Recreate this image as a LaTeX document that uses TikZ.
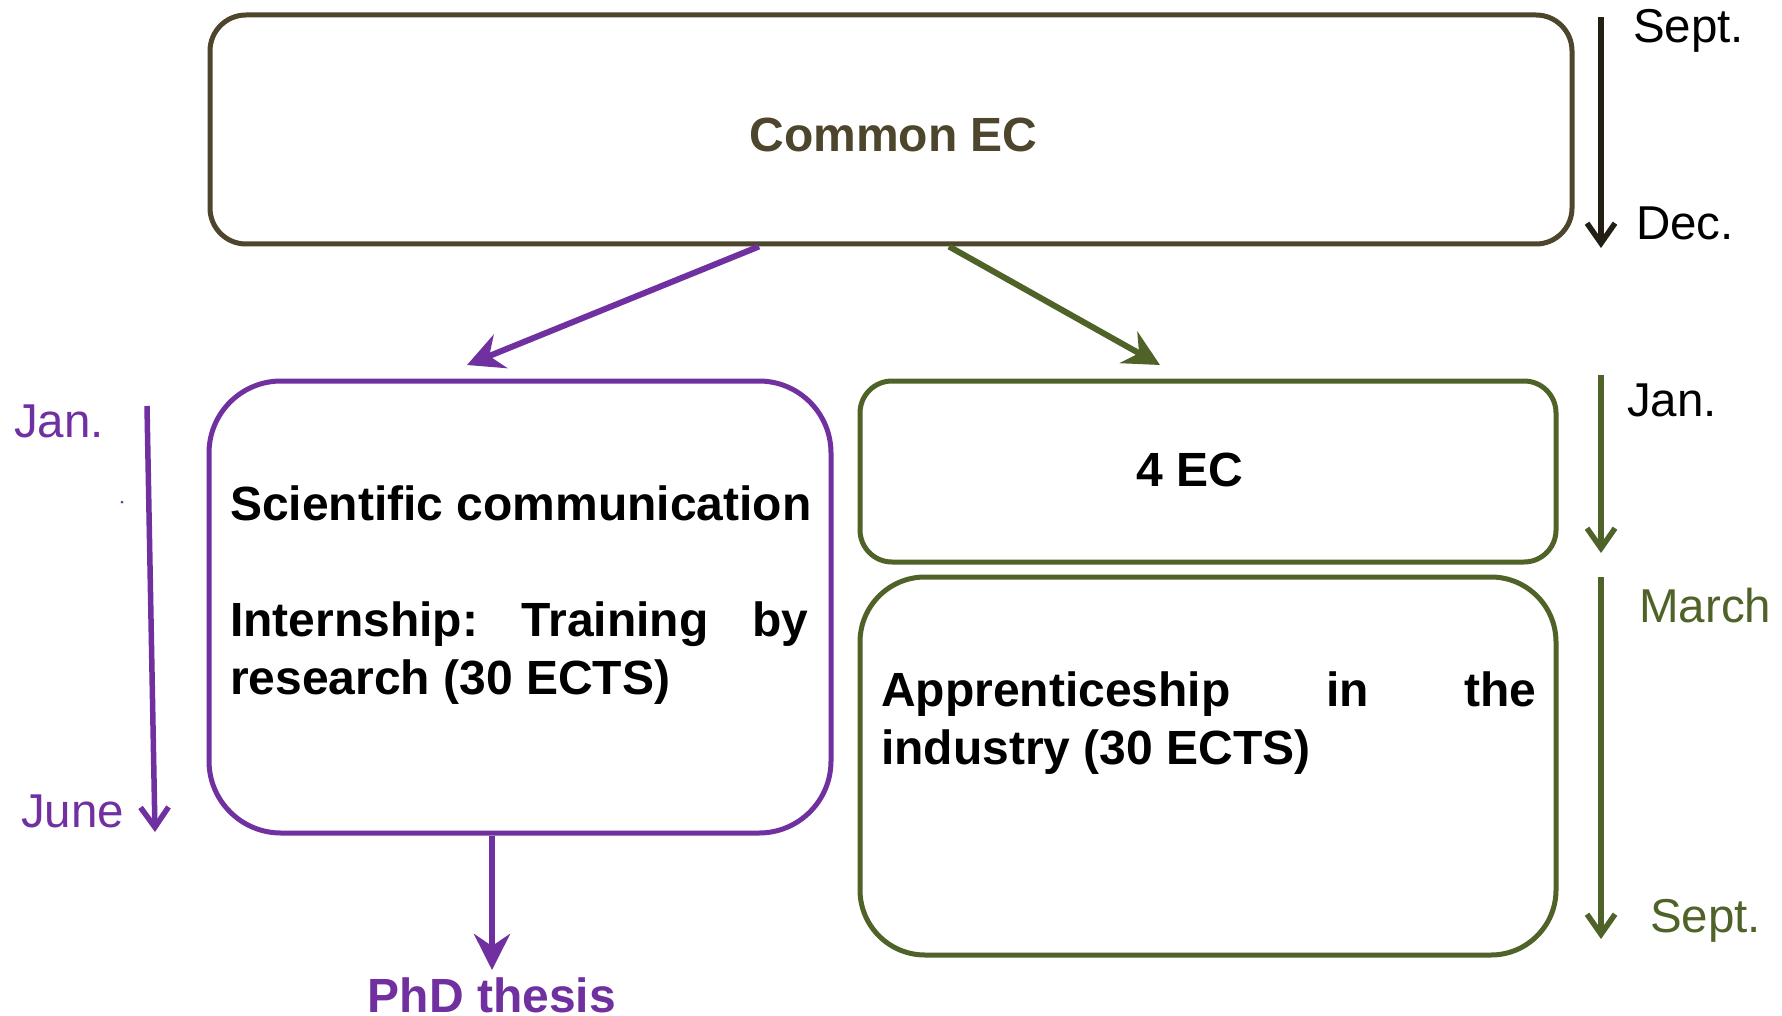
\documentclass[tikz,border=0pt]{standalone}
\usepackage{fontspec}
\setmainfont{Liberation Sans}
\usetikzlibrary{arrows.meta,calc}
\definecolor{olivebr}{HTML}{4D452C}
\definecolor{darkline}{HTML}{231F14}
\definecolor{purp}{HTML}{7030A0}
\definecolor{grn}{HTML}{4F6228}
\begin{document}
\begin{tikzpicture}[x=1pt,y=-1pt,
 box/.style={draw, line width=5pt, rounded corners=#1, inner sep=0pt},
 big/.style={font=\fontsize{48}{58}\selectfont\bfseries, inner sep=0pt},
 lbl/.style={font=\fontsize{47.5}{54}\selectfont, inner sep=0pt, anchor=base west},
 txtline/.style={big, anchor=base west},
 conn/.style={line width=6pt, -{Stealth[length=36pt,width=36pt,inset=12pt]}},
 tline/.style={line width=5.5pt, -{Straight Barb[length=20pt,width=28pt]}}
]
\fill[white] (0,0) rectangle (1782,1016);
\useasboundingbox (0,0) rectangle (1782,1016);

% boxes
\node[box=36pt, draw=olivebr, minimum width=1362pt, minimum height=229pt] (common) at (891,129.5) {};
\node[box=72pt, draw=purp, minimum width=622pt, minimum height=452pt] (sci) at (520,607) {};
\node[box=32pt, draw=grn, minimum width=696pt, minimum height=181pt] (fourec) at (1208,471.5) {};
\node[box=65pt, draw=grn, minimum width=696pt, minimum height=378pt] (app) at (1208,766) {};

% box texts
\node[big, text=olivebr, anchor=base] (commontxt) at (893.5,152) {Common EC};
\node[big, anchor=base] (fourectxt) at (1190,486) {4 EC};
\node[txtline] (sci1) at (230,520) {Scientific communication};
\node[txtline] (sci2) at (230,636) {\hbox to 578pt{Internship:\hfill Training\hfill by}};
\node[txtline] (sci3) at (230,694) {research (30 ECTS)};
\node[txtline] (app1) at (881,706) {\hbox to 655pt{Apprenticeship\hfill in\hfill the}};
\node[txtline] (app2) at (881,764) {industry (30 ECTS)};
\node[big, text=purp, anchor=base] (phd) at (492,1012) {PhD thesis};

% connectors
\coordinate (purpend) at (467,365);
\coordinate (grnend) at (1160,365);
\draw[conn, purp] ([xshift=-132pt]common.south) -- (purpend);
\draw[conn, grn] ([xshift=58pt]common.south) -- (grnend);
\draw[conn, purp, shorten >=7pt] (sci.south -| phd) -- (phd.north);

% timelines
\coordinate (bt1) at (1601,17);
\coordinate (bt2) at (1601,248);
\draw[tline, darkline] (bt1) -- (bt2);
\coordinate (g1a) at (1601,375);
\coordinate (g1b) at (1601,553);
\draw[tline, grn] (g1a) -- (g1b);
\coordinate (g2a) at (1601,577);
\coordinate (g2b) at (1601,939);
\draw[tline, grn] (g2a) -- (g2b);
\coordinate (pa) at (147,406);
\coordinate (pb) at (155,832);
\draw[tline, purp] (pa) -- (pb);

% timeline labels
\node[lbl] (sept1) at (1633,43) {Sept.};
\node[lbl] (dec) at (1636,240) {Dec.};
\node[lbl] (jan1) at (1627,416) {Jan.};
\node[lbl, text=grn] (march) at (1639,622) {March};
\node[lbl, text=grn] (sept2) at (1650,932) {Sept.};
\node[lbl, text=purp] (jan2) at (14,437) {Jan.};
\node[lbl, text=purp] (june) at (21,827) {June};
\node[circle, fill=purp, inner sep=0pt, minimum size=3pt] (dot) at (122,502) {};
\end{tikzpicture}
\end{document}
